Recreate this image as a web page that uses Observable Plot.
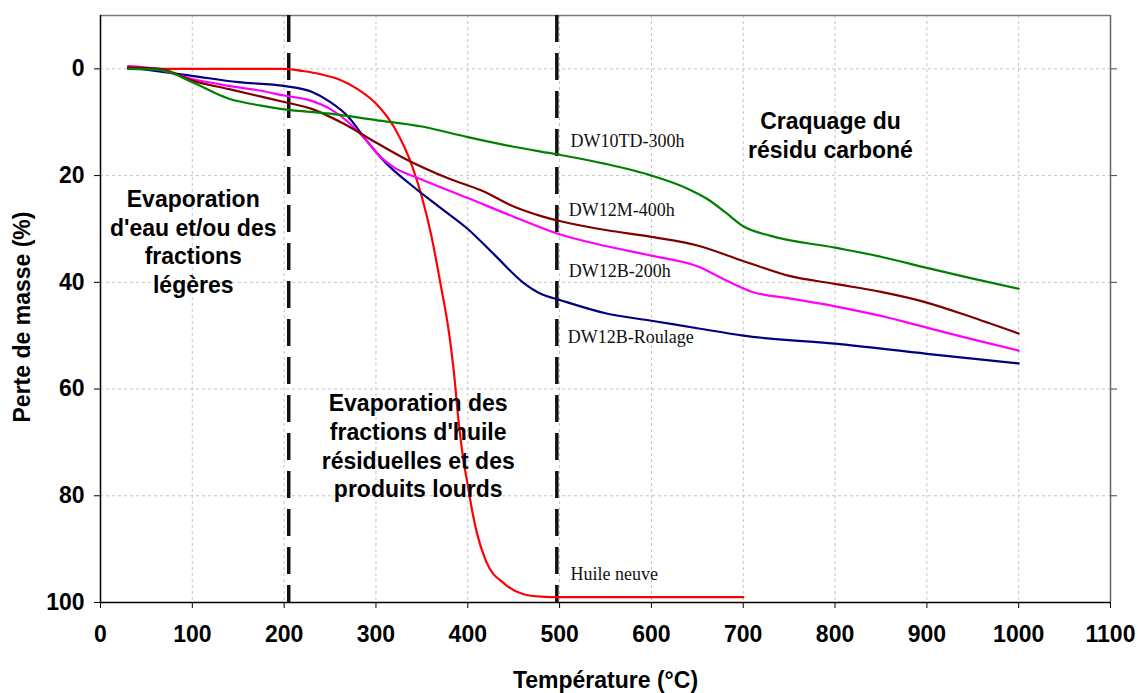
<!DOCTYPE html>
<html>
<head>
<meta charset="utf-8">
<script src="https://cdn.jsdelivr.net/npm/d3@7"></script>
<script src="https://cdn.jsdelivr.net/npm/@observablehq/plot@0.6"></script>
<style>
  html, body { margin: 0; padding: 0; background: #fff; }
  #chart { width: 1138px; height: 693px; }
</style>
</head>
<body>
<div id="chart"></div>
<script>
// ---- Data ----
const huileT = [30, 100, 150, 200, 220, 240, 260, 280, 300, 320, 340, 350, 360, 370, 380, 385, 390, 395, 400, 405, 410, 420, 440, 460, 480, 500, 600, 700];
const huileV = [0, 0, 0, 0, 0.4, 1, 2, 3.8, 6.5, 11, 18.5, 24, 31, 40, 50, 57, 66, 73, 78, 83, 87, 92.3, 96.5, 98.4, 98.9, 99, 99, 99];

const roulageT = [30, 100, 150, 200, 230, 250, 270, 290, 310, 340, 370, 400, 430, 460, 480, 500, 550, 600, 650, 700, 800, 900, 1000];
const roulageV = [-0.3, 1.3, 2.5, 3.2, 4.3, 6.2, 9, 13.5, 17.5, 22, 26, 30, 35, 40, 42.2, 43.3, 45.8, 47.2, 48.6, 50, 51.5, 53.4, 55.2];

const b200T = [30, 60, 100, 140, 175, 200, 230, 250, 270, 290, 305, 320, 345, 400, 450, 500, 550, 600, 650, 680, 710, 750, 800, 850, 900, 950, 1000];
const b200V = [-0.5, 0, 1.9, 3.2, 4.1, 5, 6, 7.5, 10, 13.5, 16.5, 18.5, 20.4, 24.2, 27.7, 31, 33.2, 35, 37, 39.5, 41.8, 43, 44.5, 46.3, 48.5, 50.7, 52.8];

const m400T = [30, 65, 100, 140, 175, 200, 230, 265, 300, 330, 380, 415, 450, 480, 500, 550, 600, 650, 700, 750, 800, 850, 900, 950, 1000];
const m400V = [-0.3, 0, 2.2, 3.8, 5.2, 6.2, 7.5, 10.3, 13.8, 16.7, 20.6, 22.8, 25.8, 27.6, 28.5, 30.2, 31.5, 33.1, 36, 38.8, 40.3, 41.8, 43.8, 46.6, 49.6];

const td300T = [30, 65, 100, 140, 175, 200, 250, 300, 350, 400, 450, 500, 550, 600, 640, 660, 680, 700, 730, 800, 850, 900, 950, 1000];
const td300V = [0, 0.2, 2.5, 5.6, 6.9, 7.6, 8.4, 9.6, 10.8, 12.8, 14.6, 16.1, 17.8, 20, 22.5, 24.3, 26.8, 29.5, 31.3, 33.5, 35.2, 37.3, 39.3, 41.2];

const seriesNames = ["Huile neuve", "DW12B-Roulage", "DW12B-200h", "DW12M-400h", "DW10TD-300h"];
const seriesColors = ["#ff0000", "#000080", "#ff00ff", "#800000", "#008000"];
const seriesT = [huileT, roulageT, b200T, m400T, td300T];
const seriesV = [huileV, roulageV, b200V, m400V, td300V];

// label anchors for series names (temperature, mass loss)
const labelT = [512, 509, 510, 510, 512];
const labelV = [94.7, 50.3, 38, 26.5, 13.6];

const xTicks = [0, 100, 200, 300, 400, 500, 600, 700, 800, 900, 1000, 1100];
const yTicks = [0, 20, 40, 60, 80, 100];
const phaseBounds = [205, 497];

const annotations = [
  "Evaporation\nd'eau et/ou des\nfractions\nlégères",
  "Evaporation des\nfractions d'huile\nrésiduelles et des\nproduits lourds",
  "Craquage du\nrésidu carboné"
];
const annotT = [101, 346, 795];
const annotV = [32.2, 70.5, 12.2];

const xLabel = "Température (°C)";
const yLabel = "Perte de masse (%)";

// ---- Build tidy tables ----
const lineData = seriesNames.flatMap((name, i) =>
  seriesT[i].map((t, j) => ({series: name, t, v: seriesV[i][j]}))
);
const seriesLabels = seriesNames.map((name, i) => ({name, t: labelT[i], v: labelV[i]}));
const annotData = annotations.map((text, i) => ({text, t: annotT[i], v: annotV[i]}));

const sans = "'Liberation Sans', Arial, Helvetica, sans-serif";
const serif = "'Liberation Serif', 'Times New Roman', serif";

const chart = Plot.plot({
  width: 1138,
  height: 693,
  marginLeft: 100,
  marginRight: 28,
  marginTop: 15,
  marginBottom: 91,
  style: {fontFamily: sans, background: "#fff", color: "#000"},
  x: {domain: [0, 1100], label: null},
  y: {domain: [-10, 100], reverse: true, label: null},
  color: {domain: seriesNames, range: seriesColors},
  marks: [
    Plot.gridX(xTicks.filter(d => d > 0 && d < 1100), {stroke: "#c4c4c4", strokeOpacity: 1, strokeDasharray: "3,3"}),
    Plot.gridY(yTicks.filter(d => d < 100), {stroke: "#c4c4c4", strokeOpacity: 1, strokeDasharray: "3,3"}),
    // frame: gray top & right, black left & bottom
    Plot.ruleY([-10], {stroke: "#7a7a7a", strokeWidth: 1.5}),
    Plot.ruleX([1100], {stroke: "#666", strokeWidth: 1.5}),
    Plot.axisY(yTicks.filter(d => d < 100), {anchor: "right", tickSize: 6, tickFormat: () => "", stroke: "#444", label: null}),
    Plot.ruleX([0], {stroke: "#000", strokeWidth: 1.5}),
    Plot.ruleY([100], {stroke: "#000", strokeWidth: 1.5}),
    Plot.axisX(xTicks, {anchor: "bottom", tickSize: 6, tickPadding: 17, fontSize: 23, fontWeight: "bold", tickFormat: d => String(d), label: null}),
    Plot.axisY(yTicks, {anchor: "left", tickSize: 6, tickPadding: 10, fontSize: 23, fontWeight: "bold", tickFormat: d => String(d), label: null}),
    // phase boundaries
    Plot.ruleX(phaseBounds, {stroke: "#111", strokeWidth: 3.5, strokeDasharray: "27,11"}),
    // curves
    Plot.line(lineData, {x: "t", y: "v", z: "series", stroke: "series", strokeWidth: 2.2, curve: "monotone-x"}),
    // series labels
    Plot.text(seriesLabels, {x: "t", y: "v", text: "name", textAnchor: "start", lineAnchor: "middle", fontFamily: serif, fontSize: 18, fill: "#111"}),
    // phase annotations
    Plot.text(annotData, {x: "t", y: "v", text: "text", textAnchor: "middle", lineAnchor: "middle", fontFamily: sans, fontSize: 23, fontWeight: "bold", lineHeight: 1.25, fill: "#000"}),
    // axis titles
    Plot.text([xLabel], {frameAnchor: "bottom", dy: 78, lineAnchor: "middle", fontSize: 23, fontWeight: "bold", fontFamily: sans}),
    Plot.text([yLabel], {frameAnchor: "left", dx: -78, dy: 8, rotate: -90, textAnchor: "middle", lineAnchor: "middle", fontSize: 23, fontWeight: "bold", fontFamily: sans})
  ]
});
document.getElementById("chart").appendChild(chart);
</script>
</body>
</html>
